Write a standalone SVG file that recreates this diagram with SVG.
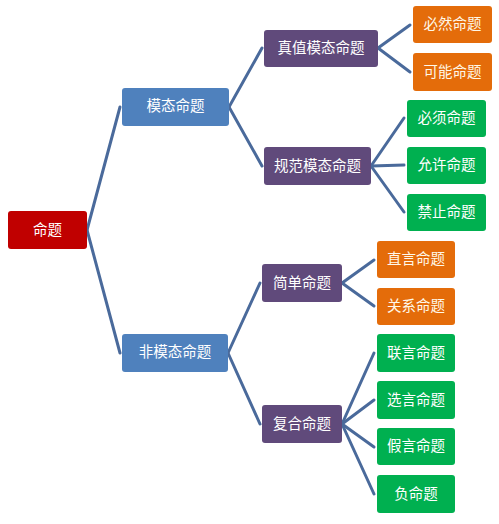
<svg xmlns="http://www.w3.org/2000/svg" width="499" height="524" viewBox="0 0 499 524">
<style>
.n rect{rx:3;ry:3}
.red rect{fill:#C00000}
.blue rect{fill:#4F81BD}
.pur rect{fill:#604A7B}
.org rect{fill:#E46C0A}
.grn rect{fill:#00B050}
text{font-family:"Noto Sans CJK SC",sans-serif;font-size:14.5px;fill:#ffffff;text-anchor:middle}
.org text{fill:#FFF8E8}
#edges line{stroke:#4A6A9B;stroke-width:3;stroke-linecap:round}
</style>
<rect width="499" height="524" fill="#ffffff"/>
<g id="edges">
<line x1="87" y1="230" x2="120" y2="107"/>
<line x1="87" y1="230" x2="120" y2="353"/>
<line x1="229" y1="107" x2="262" y2="48"/>
<line x1="229" y1="107" x2="262" y2="166"/>
<line x1="228" y1="353" x2="260" y2="283"/>
<line x1="228" y1="353" x2="260" y2="424"/>
<line x1="378" y1="48" x2="410" y2="25"/>
<line x1="378" y1="48" x2="410" y2="72"/>
<line x1="371" y1="166" x2="404" y2="118"/>
<line x1="371" y1="166" x2="404" y2="165"/>
<line x1="371" y1="166" x2="404" y2="212"/>
<line x1="342" y1="283" x2="374" y2="260"/>
<line x1="342" y1="283" x2="374" y2="306"/>
<line x1="342" y1="424" x2="374" y2="353"/>
<line x1="342" y1="424" x2="374" y2="400"/>
<line x1="342" y1="424" x2="374" y2="447"/>
<line x1="342" y1="424" x2="374" y2="494"/>
</g>
<g id="n-root" class="n red"><rect x="8" y="211" width="79" height="38"/><text x="47.5" y="235">命题</text></g>
<g id="n-modal" class="n blue"><rect x="122" y="88" width="107" height="38"/><text x="175.5" y="111">模态命题</text></g>
<g id="n-nonmodal" class="n blue"><rect x="122" y="334" width="106" height="38"/><text x="175" y="357">非模态命题</text></g>
<g id="n-alethic" class="n pur"><rect x="264" y="30" width="114" height="37"/><text x="321" y="53">真值模态命题</text></g>
<g id="n-deontic" class="n pur"><rect x="264" y="147" width="107" height="38"/><text x="317.5" y="170.5">规范模态命题</text></g>
<g id="n-simple" class="n pur"><rect x="262" y="264" width="80" height="38"/><text x="302" y="287.5">简单命题</text></g>
<g id="n-compound" class="n pur"><rect x="262" y="405" width="80" height="38"/><text x="302" y="428.5">复合命题</text></g>
<g id="n-necessary" class="n org"><rect x="413" y="6" width="79" height="37"/><text x="452.5" y="29">必然命题</text></g>
<g id="n-possible" class="n org"><rect x="413" y="53" width="79" height="38"/><text x="452.5" y="76.5">可能命题</text></g>
<g id="n-must" class="n grn"><rect x="407" y="100" width="79" height="37"/><text x="446.5" y="123">必须命题</text></g>
<g id="n-permit" class="n grn"><rect x="407" y="147" width="79" height="37"/><text x="446.5" y="170">允许命题</text></g>
<g id="n-forbid" class="n grn"><rect x="407" y="194" width="79" height="37"/><text x="446.5" y="217">禁止命题</text></g>
<g id="n-categorical" class="n org"><rect x="377" y="241" width="78" height="37"/><text x="416" y="264">直言命题</text></g>
<g id="n-relational" class="n org"><rect x="377" y="288" width="78" height="37"/><text x="416" y="311">关系命题</text></g>
<g id="n-conj" class="n grn"><rect x="377" y="334" width="78" height="38"/><text x="416" y="357.5">联言命题</text></g>
<g id="n-disj" class="n grn"><rect x="377" y="381" width="78" height="38"/><text x="416" y="404.5">选言命题</text></g>
<g id="n-hyp" class="n grn"><rect x="377" y="428" width="78" height="37"/><text x="416" y="451">假言命题</text></g>
<g id="n-neg" class="n grn"><rect x="377" y="475" width="78" height="38"/><text x="416" y="498.5">负命题</text></g>
</svg>
